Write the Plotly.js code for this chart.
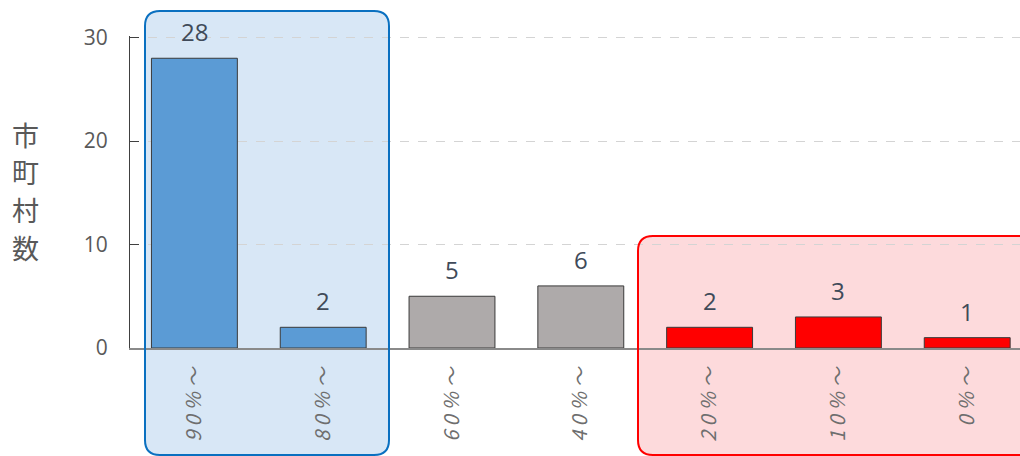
<!DOCTYPE html>
<html>
<head>
<meta charset="utf-8">
<script src="https://cdn.plot.ly/plotly-3.0.1.min.js"></script>
<style>html,body{margin:0;padding:0;background:#fff;}#chart{width:1020px;height:456px;}</style>
</head>
<body>
<div id="chart"></div>
<script>
const categories = ['90％～', '80％～', '60％～', '40％～', '20％～', '10％～', '0％～'];
const counts = [28, 2, 5, 6, 2, 3, 1];
const barColors = ['#5b9bd5', '#5b9bd5', '#aeaaaa', '#aeaaaa', '#ff0000', '#ff0000', '#ff0000'];
const yTicks = [0, 10, 20, 30];
const yTitle = '市町村数';

const W = 1020, H = 456;
const M = {l: 130, r: 0, t: 36, b: 108};
const PW = W - M.l - M.r, PH = H - M.t - M.b;

// pixel -> paper helpers for decorative boxes
const px2x = p => (p - M.l) / PW;
const px2y = p => (M.t + PH - p) / PH;
function roundRect(x0, y0, x1, y1, r) {
  const P = (x, y) => px2x(x).toFixed(5) + ',' + px2y(y).toFixed(5);
  return 'M' + P(x0 + r, y0) + ' L' + P(x1 - r, y0) + ' Q' + P(x1, y0) + ' ' + P(x1, y0 + r) +
    ' L' + P(x1, y1 - r) + ' Q' + P(x1, y1) + ' ' + P(x1 - r, y1) +
    ' L' + P(x0 + r, y1) + ' Q' + P(x0, y1) + ' ' + P(x0, y1 - r) +
    ' L' + P(x0, y0 + r) + ' Q' + P(x0, y0) + ' ' + P(x0 + r, y0) + ' Z';
}
const blueBox = roundRect(145, 11, 389, 455, 15);
const redBox = roundRect(638, 236, 1040, 455, 15);

const tickText = categories.map(c => c.split('').join('\u2009'));

const trace = {
  type: 'bar',
  x: categories,
  y: counts,
  marker: {color: barColors, line: {color: '#3a3a3a', width: 1}},
  hoverinfo: 'x+y'
};

const labelAnn = categories.map((c, i) => ({
  x: c, y: counts[i], xref: 'x', yref: 'y',
  text: String(counts[i]), showarrow: false,
  yanchor: 'bottom', yshift: 8,
  font: {family: 'Open Sans, Noto Sans, sans-serif', size: 24, color: '#404a59'}
}));

const titleAnn = yTitle.split('').map((ch, i) => ({
  xref: 'paper', yref: 'paper', x: px2x(25), y: px2y(134 + i * 37.7),
  xanchor: 'center', yanchor: 'middle', showarrow: false,
  text: ch,
  font: {family: 'Noto Sans CJK JP, sans-serif', size: 27, color: '#595959'}
}));

const layout = {
  width: W, height: H,
  margin: M,
  paper_bgcolor: '#ffffff',
  plot_bgcolor: 'rgba(0,0,0,0)',
  showlegend: false,
  bargap: 0.333,
  xaxis: {
    type: 'category',
    range: [-0.5, -0.5 + PW / 128.8],
    tickvals: categories,
    ticktext: tickText,
    tickangle: -90,
    ticks: '',
    showgrid: false,
    showline: true,
    linecolor: '#8a8a8a',
    linewidth: 1.5,
    zeroline: false,
    ticklabelstandoff: 10,
    tickfont: {family: 'Noto Sans CJK JP, sans-serif', size: 20, color: '#6e6e6e', style: 'italic'}
  },
  yaxis: {
    range: [0, 30.15],
    tickvals: yTicks,
    ticks: 'inside',
    ticklen: 9,
    tickcolor: '#404040',
    showline: true,
    linecolor: '#404040',
    linewidth: 1,
    zeroline: false,
    showgrid: true,
    gridcolor: '#d4d4d4',
    griddash: 'dash',
    gridwidth: 1,
    ticklabelstandoff: 17,
    tickfont: {family: 'Open Sans, Noto Sans, sans-serif', size: 21, color: '#595959'}
  },
  shapes: [
    {type: 'path', xref: 'paper', yref: 'paper', path: blueBox, layer: 'below',
     fillcolor: 'rgba(200,221,242,0.7)', line: {width: 0}},
    {type: 'path', xref: 'paper', yref: 'paper', path: redBox, layer: 'below',
     fillcolor: 'rgba(252,200,204,0.68)', line: {width: 0}},
    {type: 'path', xref: 'paper', yref: 'paper', path: blueBox, layer: 'above',
     fillcolor: 'rgba(0,0,0,0)', line: {color: '#0a70c0', width: 2}},
    {type: 'path', xref: 'paper', yref: 'paper', path: redBox, layer: 'above',
     fillcolor: 'rgba(0,0,0,0)', line: {color: '#ff0000', width: 2}}
  ],
  annotations: labelAnn.concat(titleAnn)
};

Plotly.newPlot('chart', [trace], layout, {displayModeBar: false, staticPlot: true});
</script>
</body>
</html>
